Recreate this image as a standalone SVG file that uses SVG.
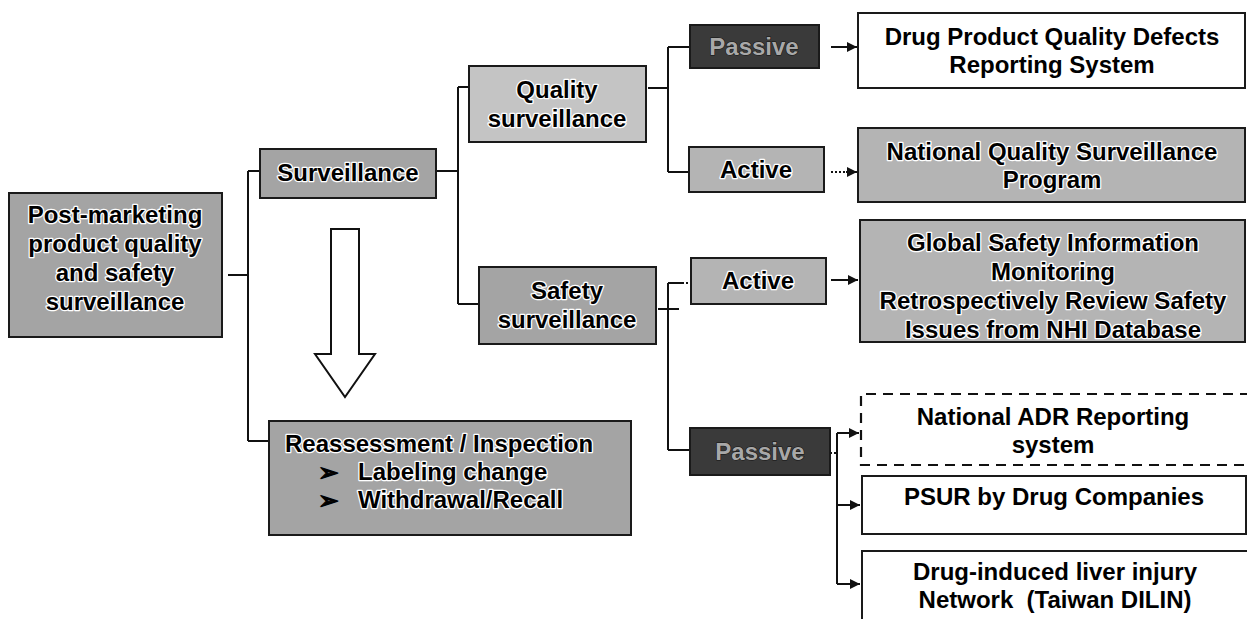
<svg xmlns="http://www.w3.org/2000/svg" width="1247" height="619" viewBox="0 0 1247 619">
  <style>
    .box { stroke: #1a1a1a; stroke-width: 2; }
    .mid { fill: #a4a4a4; }
    .light { fill: #c4c4c4; }
    .soft { fill: #b4b4b4; }
    .dark { fill: #3a3a3a; }
    .white { fill: #ffffff; }
    text { font-family: "Liberation Sans", Arial, sans-serif; font-weight: bold; font-size: 24px; }
    .c { text-anchor: middle; }
    .halo { fill: #000; stroke: #ffffff; stroke-width: 2.6; stroke-linejoin: round; paint-order: stroke; }
    .plain { fill: #000; }
    .ghost { fill: #a8a8a8; stroke: #111; stroke-width: 1; paint-order: stroke; }
    .bullet { font-family: "DejaVu Sans", sans-serif; font-size: 25px; fill: #000; stroke: #000; stroke-width: 1.2; stroke-linejoin: round; }
    .wire { fill: none; stroke: #111; stroke-width: 2; }
    .dot { fill: none; stroke: #111; stroke-width: 2; stroke-dasharray: 2 2; }
  </style>
  <defs>
    <marker id="tip" viewBox="0 0 10 10" refX="10" refY="5" markerWidth="5" markerHeight="5" orient="auto" markerUnits="strokeWidth">
      <path d="M0,0 L10,5 L0,10 Z" fill="#111"/>
    </marker>
  </defs>

  <rect width="1247" height="619" fill="#ffffff"/>

  <!-- connectors -->
  <g id="connectors">
    <!-- root to Surveillance and Reassessment -->
    <path class="wire" d="M228,275 H248 M248,171 V441 M248,171 H260 M248,441 H269"/>
    <!-- Surveillance to its two branches -->
    <path class="wire" d="M436,171 H458 M458,87 V304 M458,87 H469 M458,304 H479"/>
    <!-- Quality branch -->
    <path class="wire" d="M648,88 H668 M668,47 V172 M668,47 H690 M668,172 H689"/>
    <!-- Safety branch -->
    <path class="wire" d="M658,309 H679 M668,283 V450 M668,283 H682 M668,450 H690"/>
    <path class="dot" d="M682,283 H691"/>
    <!-- arrows to the right-hand boxes -->
    <path class="wire" d="M831,47 H857" marker-end="url(#tip)"/>
    <path class="dot" d="M831,172 H846"/>
    <path class="wire" d="M846,172 H857" marker-end="url(#tip)"/>
    <path class="wire" d="M831,280 H858" marker-end="url(#tip)"/>
    <!-- passive safety fan-out -->
    <path class="dot" d="M830,453 H837"/>
    <path class="wire" d="M837,433 V584"/>
    <path class="wire" d="M837,433 H859" marker-end="url(#tip)"/>
    <path class="wire" d="M837,505 H860" marker-end="url(#tip)"/>
    <path class="wire" d="M837,584 H860" marker-end="url(#tip)"/>
    <!-- hollow down arrow -->
    <path d="M331,229 H359 V354 H375 L345,397 L315,354 H331 Z" fill="#ffffff" stroke="#111" stroke-width="2" stroke-linejoin="miter"/>
  </g>

  <g id="root">
    <rect class="box mid" x="9" y="193" width="213" height="144"/>
    <text class="halo c" x="115" y="223">Post-marketing</text>
    <text class="halo c" x="115" y="252">product quality</text>
    <text class="halo c" x="115" y="281">and safety</text>
    <text class="halo c" x="115" y="310">surveillance</text>
  </g>

  <g id="surveillance">
    <rect class="box mid" x="260" y="149" width="176" height="49"/>
    <text class="halo c" x="348" y="181">Surveillance</text>
  </g>

  <g id="reassessment">
    <rect class="box mid" x="269" y="421" width="362" height="114"/>
    <text class="halo" x="285" y="452">Reassessment / Inspection</text>
    <text class="bullet" x="318" y="481">➢</text>
    <text class="halo" x="358" y="480">Labeling change</text>
    <text class="bullet" x="318" y="509">➢</text>
    <text class="halo" x="358" y="508">Withdrawal/Recall</text>
  </g>

  <g id="quality">
    <rect class="box light" x="469" y="66" width="177" height="76"/>
    <text class="halo c" x="557" y="98">Quality</text>
    <text class="halo c" x="557" y="127">surveillance</text>
  </g>

  <g id="safety">
    <rect class="box mid" x="479" y="267" width="177" height="77"/>
    <text class="halo c" x="567" y="299">Safety</text>
    <text class="halo c" x="567" y="328">surveillance</text>
  </g>

  <g id="quality-passive">
    <rect class="box dark" x="690" y="25" width="129" height="43"/>
    <text class="ghost c" x="754" y="55">Passive</text>
  </g>

  <g id="quality-active">
    <rect class="box soft" x="689" y="147" width="135" height="45"/>
    <text class="halo c" x="756" y="178">Active</text>
  </g>

  <g id="safety-active">
    <rect class="box soft" x="691" y="258" width="135" height="46"/>
    <text class="halo c" x="758" y="289">Active</text>
  </g>

  <g id="safety-passive">
    <rect class="box dark" x="690" y="428" width="140" height="47"/>
    <text class="ghost c" x="760" y="460">Passive</text>
  </g>

  <g id="defects-reporting">
    <rect class="box white" x="858" y="13" width="387" height="75"/>
    <text class="plain c" x="1052" y="45">Drug Product Quality Defects</text>
    <text class="plain c" x="1052" y="73">Reporting System</text>
  </g>

  <g id="quality-program">
    <rect class="box soft" x="858" y="128" width="387" height="74"/>
    <text class="halo c" x="1052" y="160">National Quality Surveillance</text>
    <text class="halo c" x="1052" y="188">Program</text>
  </g>

  <g id="safety-monitoring">
    <rect class="box soft" x="860" y="220" width="385" height="122"/>
    <text class="halo c" x="1053" y="251">Global Safety Information</text>
    <text class="halo c" x="1053" y="280">Monitoring</text>
    <text class="halo c" x="1053" y="309">Retrospectively Review Safety</text>
    <text class="halo c" x="1053" y="338">Issues from NHI Database</text>
  </g>

  <g id="adr-reporting">
    <path d="M1250,394 H861 V465 H1250" fill="#ffffff" stroke="#111" stroke-width="2.2" stroke-dasharray="10 7"/>
    <text class="plain c" x="1053" y="425">National ADR Reporting</text>
    <text class="plain c" x="1053" y="453">system</text>
  </g>

  <g id="psur">
    <rect class="box white" x="862" y="476" width="384" height="58"/>
    <text class="plain c" x="1054" y="505">PSUR by Drug Companies</text>
  </g>

  <g id="dilin">
    <path class="box white" d="M1250,551 H862 V625"/>
    <text class="plain c" x="1055" y="580">Drug-induced liver injury</text>
    <text class="plain c" x="1055" y="608">Network&#160; (Taiwan DILIN)</text>
  </g>
</svg>
